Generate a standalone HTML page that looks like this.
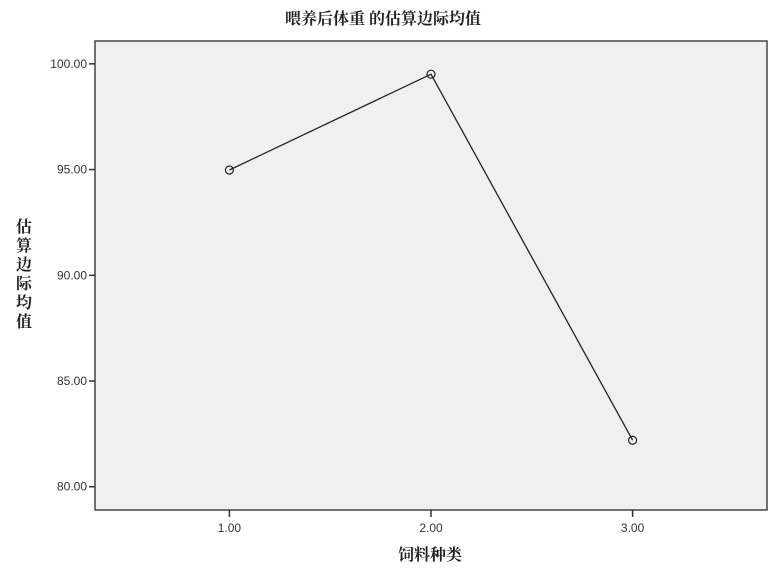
<!DOCTYPE html>
<html><head><meta charset="utf-8"><style>
body{margin:0;background:#fff;}
svg text{font-family:"Liberation Sans","Noto Sans CJK SC",sans-serif;}
svg text.cjk{font-family:"Liberation Serif","Noto Serif CJK SC",serif;}
</style></head><body>
<svg id="chart" width="783" height="569">
<text class="cjk" x="383" y="24" text-anchor="middle" font-size="16" font-weight="bold" fill="#222">喂养后体重 的估算边际均值</text>
<rect x="95" y="41" width="672" height="469" fill="#f0f0f0" stroke="#444" stroke-width="1.5"/>
<g id="yaxis"></g>
<g id="xaxis"></g>
<g id="series"></g>
<text class="cjk" x="430" y="560" text-anchor="middle" font-size="16" font-weight="bold" fill="#222">饲料种类</text>
<text class="cjk" font-size="16" font-weight="bold" fill="#222" text-anchor="middle">
<tspan x="24" y="232">估</tspan><tspan x="24" y="251">算</tspan><tspan x="24" y="270">边</tspan><tspan x="24" y="289">际</tspan><tspan x="24" y="308">均</tspan><tspan x="24" y="327">值</tspan></text>
</svg>
<script>
const categories=[1,2,3];
const xTickLabels=["1.00","2.00","3.00"];
const values=[94.98,99.51,82.2];
const yTicks=[80,85,90,95,100];
const yTickLabels=["80.00","85.00","90.00","95.00","100.00"];
const NS="http://www.w3.org/2000/svg";
const xs=v=>95+(v-1/3)/(10/3)*672;
const ys=v=>510-(v-78.9)/(101.08-78.9)*469;
function mk(t,a,p){const e=document.createElementNS(NS,t);for(const k in a)e.setAttribute(k,a[k]);p.appendChild(e);return e;}
const ya=document.getElementById('yaxis'),xa=document.getElementById('xaxis'),se=document.getElementById('series');
yTicks.forEach((v,i)=>{const y=ys(v);
const l=mk('line',{x1:89,x2:95,y1:y,y2:y,stroke:'#333','stroke-width':1.5},ya);


const t=mk('text',{x:87,y:y+4,'text-anchor':'end','font-size':12,fill:'#333'},ya);t.textContent=yTickLabels[i];

});
categories.forEach((c,i)=>{const x=xs(c);
const l=mk('line',{x1:x,x2:x,y1:510,y2:517,stroke:'#333','stroke-width':1.5},xa);


const t=mk('text',{x:x,y:532,'text-anchor':'middle','font-size':12,fill:'#333'},xa);t.textContent=xTickLabels[i];

});
const pl=mk('polyline',{points:categories.map((c,i)=>xs(c)+','+ys(values[i])).join(' '),fill:'none',stroke:'#222','stroke-width':1.3},se);


categories.forEach((c,i)=>{const p=mk('circle',{cx:xs(c),cy:ys(values[i]),r:4,fill:'none',stroke:'#222','stroke-width':1.2},se);

});
</script>
</body></html>
